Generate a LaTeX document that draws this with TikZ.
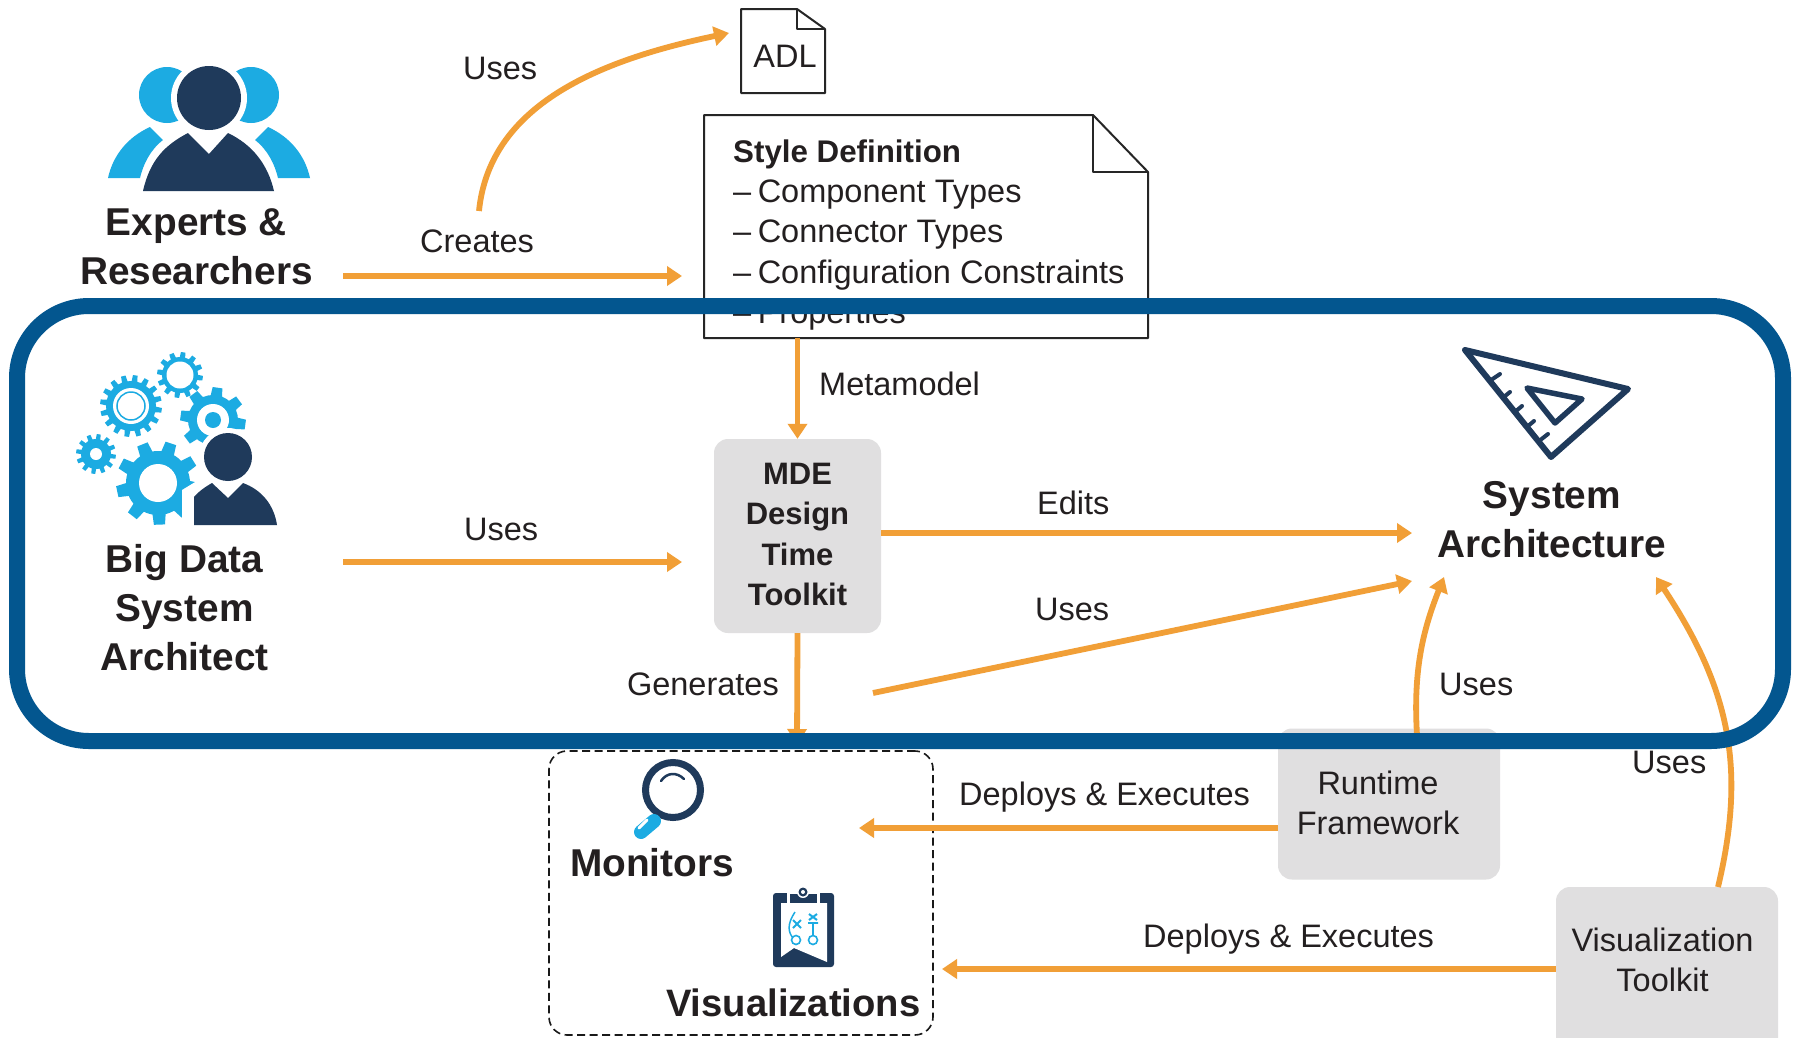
\documentclass[tikz,border=0pt]{standalone}
\usepackage{fontspec}
\setmainfont{Liberation Sans}
\usetikzlibrary{arrows.meta}
\definecolor{flowor}{HTML}{F19F37}
\definecolor{barblue}{HTML}{03568F}
\definecolor{iconblue}{HTML}{1CABE2}
\definecolor{iconnavy}{HTML}{1F3A5B}
\definecolor{boxgrey}{HTML}{E0DFE0}
\definecolor{inkc}{HTML}{231F20}
\tikzset{
  flow/.style={draw=flowor,line width=5.8pt,-{Triangle[length=15pt,width=19pt]}},
  lbl/.style={anchor=base west,inner sep=0pt,text=inkc,font=\fontsize{32.5}{40}\selectfont},
  head/.style={align=center,inner sep=0pt,text=inkc,font=\fontsize{38.8}{49}\selectfont\bfseries},
  greybox/.style={fill=boxgrey,rounded corners=14pt,inner sep=0pt,align=center,text=inkc},
  docline/.style={draw=black!85,line width=2pt,line join=round},
}
\newcommand{\gearicon}[6]{%
  \fill[iconblue] (#1,#2) circle[radius=#4pt];
  \foreach \k in {1,...,#5}{
    \pgfmathsetmacro{\ang}{\k*360/#5+8}
    \pgfmathsetmacro{\dla}{0.62*180/#5}
    \pgfmathsetmacro{\dlb}{0.38*180/#5}
    \fill[iconblue,shift={(#1,#2)}] (\ang-\dla:#4-1) -- (\ang-\dlb:#3) -- (\ang+\dlb:#3) -- (\ang+\dla:#4-1) -- cycle;
  }
  \fill[white] (#1,#2) circle[radius=#6pt];
}
\newcommand{\dsh}{–\hspace{-2.5pt} }
\begin{document}
\begin{tikzpicture}[x=1pt,y=-1pt]
\useasboundingbox (0,0) rectangle (1797,1037);
\fill[white] (0,0) rectangle (1797,1037);

% --- documents
\node[lbl,anchor=base] (adl) at (785,67) {ADL};
\draw[docline] (741,9) -- (797,9) -- (825,29) -- (825,93) -- (741,93) -- cycle;
\draw[docline] (797,9) -- (797,29) -- (825,29);

\node[minimum width=444pt,minimum height=223pt,inner sep=0pt] (styledoc) at (926,226.5) {};
\draw[docline] (704,115) -- (1093,115) -- (1148,172) -- (1148,338) -- (704,338) -- cycle;
\draw[docline] (1093,115) -- (1093,172) -- (1148,172);
\node[anchor=north west,inner sep=0pt,align=left,text=inkc,font=\fontsize{32.5}{40.3}\selectfont] (styletext) at (733,139.5)
  {{\fontsize{31.3}{40.3}\selectfont\bfseries Style Definition}\\\dsh Component Types\\\dsh Connector Types\\\dsh Configuration Constraints\\\dsh Properties};

% --- grey boxes
\node[greybox,minimum width=167pt,minimum height=194pt] (mde) at (797.5,536) {};
\node[anchor=center,align=center,inner sep=0pt,text=inkc,font=\fontsize{31}{40.3}\selectfont\bfseries] (mdetext) at (797.5,534.5) {MDE\\Design\\Time\\Toolkit};
\node[greybox,minimum width=222pt,minimum height=151pt] (runtime) at (1389,804) {};
\node[lbl,anchor=center,align=center] (runtimetext) at (1378,803) {Runtime\\Framework};
\node[greybox,minimum width=222pt,minimum height=166pt] (viztk) at (1667,970) {};
\node[lbl,anchor=center,align=center] (viztext) at (1662.5,960) {Visualization\\Toolkit};

% --- dashed group
\node[draw=black!90,line width=1.6pt,dash pattern=on 8pt off 4.5pt,rounded corners=18pt,minimum width=384pt,minimum height=284pt,inner sep=0pt] (group) at (741,893) {};

% --- free connector ends
\coordinate (adltip) at (729,33);
\coordinate (usesstart) at (479,211);
\coordinate (creA) at (343,276);
\coordinate (creB) at (682,276);
\coordinate (useA) at (343,562);
\coordinate (useB) at (682,562);
\coordinate (edTip) at (1412,533);
\coordinate (diagA) at (873,693);
\coordinate (diagB) at (1412,581);
\coordinate (genTip) at (797,744);
\coordinate (rtTip) at (1444,577);
\coordinate (vzTip) at (1656,577);
\coordinate (monTip) at (859,828);
\coordinate (visTip) at (942,969);

% --- connectors
\draw[flow] (usesstart) .. controls (490,100) and (610,58) .. (adltip);
\draw[flow] (creA) -- (creB);
\draw[flow] (useA) -- (useB);
\draw[flow] (styledoc.south -| mde.north) -- (mde.north);
\draw[flow] (mde.south) -- (genTip);
\draw[flow] (mde.east |- edTip) -- (edTip);
\draw[flow] (diagA) -- (diagB);
\draw[flow] (1417,735) .. controls (1413,670) and (1423,630) .. (rtTip);
\draw[flow] (1718,887) .. controls (1746,770) and (1731,690) .. (vzTip);
\draw[flow] (runtime.west |- monTip) -- (monTip);
\draw[flow] (viztk.west |- visTip) -- (visTip);

% --- connector labels
\node[lbl] (l1) at (463,79.5) {Uses};
\node[lbl] (l2) at (420,252) {Creates};
\node[lbl] (l3) at (819,395) {Metamodel};
\node[lbl] (l4) at (464,540) {Uses};
\node[lbl] (l5) at (1037,514) {Edits};
\node[lbl] (l6) at (1035,620) {Uses};
\node[lbl,anchor=base east] (l7) at (779,695) {Generates};
\node[lbl] (l8) at (959,805) {Deploys \& Executes};
\node[lbl] (l9) at (1143,947) {Deploys \& Executes};
\node[lbl] (l10) at (1439,695) {Uses};
\node[lbl] (l11) at (1632,773) {Uses};

% --- bold captions
\node[head] (experts) at (196.5,247) {Experts \&\\Researchers};
\node[head] (architect) at (184.5,607.5) {Big Data\\System\\Architect};
\node[head] (sysarch) at (1552,519.5) {System\\Architecture};
\node[head,anchor=base west] (monitors) at (570,876) {Monitors};
\node[head,anchor=base west,font=\fontsize{38.2}{49}\selectfont\bfseries] (visual) at (666,1016) {Visualizations};

% --- experts icon
\fill[iconblue] (167,95) circle[radius=28pt];
\fill[iconblue] (251,95) circle[radius=28pt];
\fill[iconblue] (108,178) .. controls (113,155) and (128,137) .. (150,127) -- (163,140) .. controls (150,150) and (143,165) .. (140,178) -- cycle;
\fill[iconblue] (310,178) .. controls (305,155) and (290,137) .. (268,127) -- (255,140) .. controls (268,150) and (275,165) .. (278,178) -- cycle;
\fill[white] (209,98) circle[radius=38pt];
\fill[iconnavy] (209,98) circle[radius=32pt];
\fill[iconnavy] (143,191) .. controls (150,160) and (165,145) .. (188,133) -- (209,154) -- (228,133) .. controls (253,145) and (268,165) .. (274,191) -- cycle;

% --- gears and architect
\gearicon{131}{406}{31}{25}{16}{18}
\draw[iconblue,line width=1.5pt] (131,406) circle[radius=14pt];
\gearicon{180}{375}{23}{18}{12}{13.5}
\gearicon{213}{420}{33}{25}{8}{16}
\fill[iconblue] (213,420) circle[radius=8pt];
\gearicon{96}{454}{20}{15}{12}{6}
\gearicon{158}{483}{42}{32}{9}{19}
\fill[white] (228,457) circle[radius=29pt];
\fill[white] (182,530) -- (182,490) -- (210,473) -- (250,473) -- (290,530) -- cycle;
\fill[iconnavy] (228,457) circle[radius=24pt];
\fill[iconnavy] (194,525) -- (194,497) .. controls (198,492) and (205,487) .. (212,483) -- (228,498) -- (243,483) .. controls (262,490) and (274,505) .. (277,525) -- cycle;

% --- set square
\draw[iconnavy,line width=6pt,line join=round] (1465,350) -- (1628,389) -- (1551,457) -- cycle;
\draw[iconnavy,line width=5.5pt,line join=round] (1527,388) -- (1582,399) -- (1555,423) -- cycle;
\draw[iconnavy,line width=4pt,line cap=round] (1491,380) -- (1500,374) (1505,396) -- (1510,392) (1516,411) -- (1522,406) (1528,426) -- (1534,421) (1539,441) -- (1548,434);

% --- magnifier
\draw[iconnavy,line width=7pt] (673,790) circle[radius=27.5pt];
\draw[iconnavy,line width=2.5pt,line cap=round] (661,781) .. controls (667,772) and (677,772) .. (684,779);
\draw[iconblue,line width=14pt,line cap=round] (654,821) -- (641,832);
\draw[white,line width=3pt,line cap=round] (647,820) -- (639,828);

% --- clipboard
\fill[iconnavy,rounded corners=3pt] (773,893) rectangle (834,967);
\fill[white] (781,903) -- (827,903) -- (827,962) -- (794,948) -- (781,957) -- cycle;
\fill[white] (787,890) rectangle (820,905);
\fill[iconnavy] (790,894) rectangle (817,903);
\fill[white] (803,892) circle[radius=6pt];
\fill[iconnavy] (803,892) circle[radius=4.5pt];
\fill[white] (803,892) circle[radius=2pt];
\draw[iconblue,line width=1.5pt] (795,912) .. controls (787,924) and (788,932) .. (793,938);
\draw[iconblue,line width=1.6pt] (796,940) circle[radius=4.5pt] (813,940) circle[radius=4.5pt] (813,935.5) -- (813,923) (808,923) -- (818,923);
\draw[iconblue,line width=2pt] (793,920) -- (801,928) (801,920) -- (793,928) (809,914) -- (817,920) (817,914) -- (809,920);

% --- blue frame on top of everything it crosses
\draw[barblue,line width=16pt,rounded corners=72pt] (17,306) rectangle (1783,741);
\end{tikzpicture}
\end{document}
